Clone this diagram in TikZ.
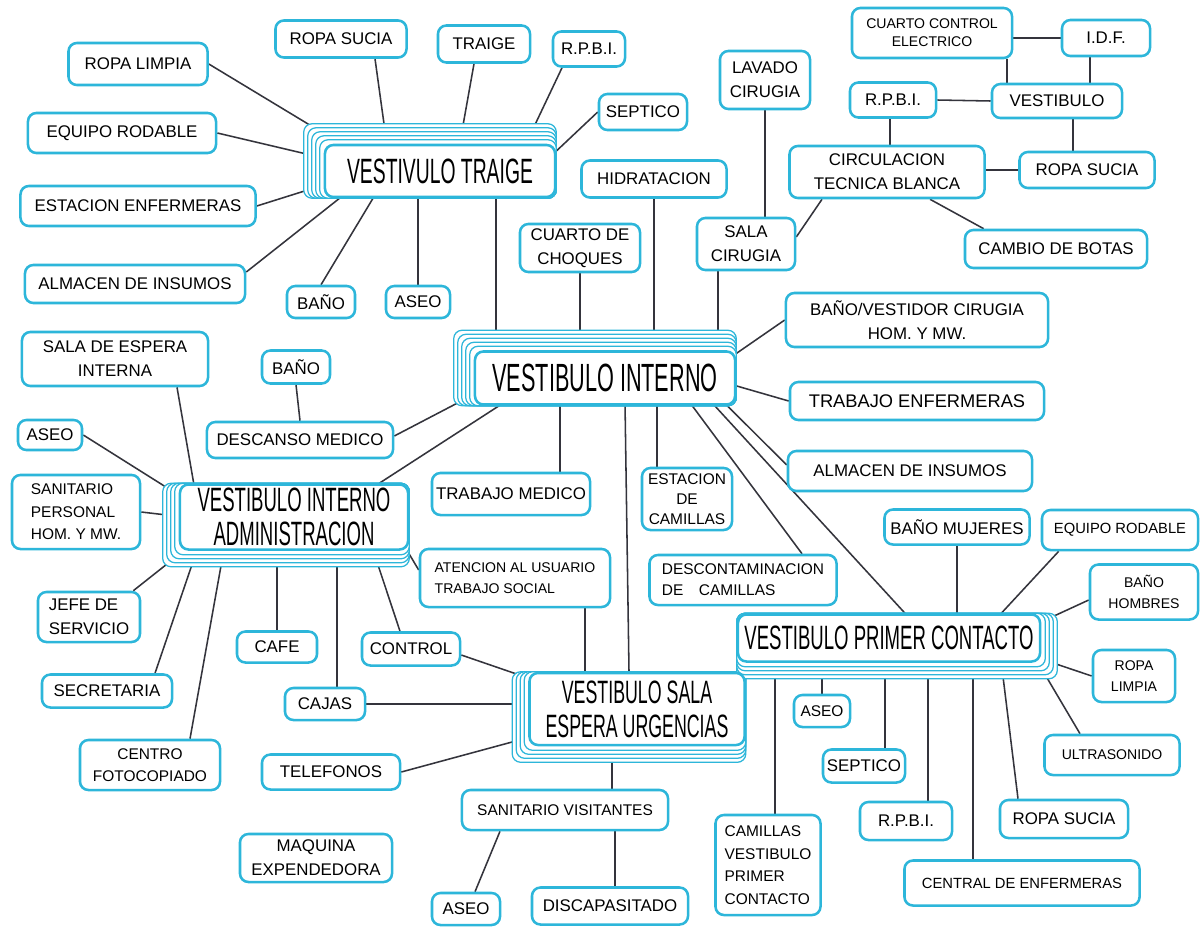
\documentclass[tikz,border=0pt]{standalone}
\usepackage{fontspec}
\setmainfont{Liberation Sans}
\newfontfamily\hubfont[FakeStretch=0.55]{Liberation Sans}
\usetikzlibrary{calc}
\definecolor{cyanline}{HTML}{2DB6DA}
\definecolor{inkline}{HTML}{34343C}
\pgfdeclarelayer{background}
\pgfdeclarelayer{stack}
\pgfsetlayers{background,stack,main}

\begin{document}
\begin{tikzpicture}[
  x=0.025cm, y=-0.025cm,
  room/.style={
    draw=cyanline,
    fill=white,
    line width=1.8pt,
    rounded corners=6pt,
    align=center,
    inner sep=2pt,
    font=\fontsize{12}{17}\selectfont
  },
  wh/.style 2 args={minimum width=#1*0.25mm, minimum height=#2*0.25mm},
  hub/.style={room, font=\hubfont\fontsize{#1}{24}\selectfont},
  sheet/.style={draw=cyanline, fill=white, line width=0.9pt, rounded corners=6pt},
  link/.style={draw=inkline, line width=1.1pt}
]
\useasboundingbox (0,0) rectangle (1200,928);

% vestivulo traige
\node[room, wh={139}{42}] (rl1) at (138,64) {ROPA LIMPIA};
\node[room, wh={131}{37}] (rs1) at (341,39) {ROPA SUCIA};
\node[room, wh={92}{37}] (trj) at (484,44) {TRAIGE};
\node[room, wh={72}{35}] (rpbi1) at (589,49) {R.P.B.I.};
\node[room, wh={88}{36}] (sep1) at (643,112) {SEPTICO};
\node[room, wh={188}{40}] (eqr1) at (122,133) {EQUIPO RODABLE};
\node[room, wh={235}{40}] (estenf) at (138,206) {ESTACION ENFERMERAS};
\node[room, wh={220}{38}] (alm1) at (135,284) {ALMACEN DE INSUMOS};
\node[room, wh={68}{32}] (bano1) at (321,302) {BAÑO};
\node[room, wh={64}{32}] (aseo1) at (418,302) {ASEO};
\node[hub=25, wh={230}{52}] (vtr) at (440,171) {VESTIVULO TRAIGE};

% circulacion blanca
\node[room, wh={90}{58}] (lav) at (765,80) {LAVADO\\CIRUGIA};
\node[room, wh={160}{50}, font=\fontsize{10}{13}\selectfont] (cce) at (932,33) {CUARTO CONTROL\\ELECTRICO};
\node[room, wh={88}{36}] (idf) at (1106,38) {I.D.F.};
\node[room, wh={86}{35}] (rpbi2) at (893,100) {R.P.B.I.};
\node[room, wh={130}{34}] (vest) at (1057,101) {VESTIBULO};
\node[room, wh={195}{52}] (ctb) at (887,172) {CIRCULACION\\TECNICA BLANCA};
\node[room, wh={135}{36}] (rs2) at (1087,170) {ROPA SUCIA};
\node[room, wh={98}{52}] (salac) at (746,244) {SALA\\CIRUGIA};
\node[room, wh={182}{38}] (botas) at (1056,249) {CAMBIO DE BOTAS};

% vestibulo interno
\node[room, wh={145}{37}] (hidr) at (654,179) {HIDRATACION};
\node[room, wh={120}{48}] (choq) at (580,248) {CUARTO DE\\CHOQUES};
\node[room, wh={262}{54}] (banovest) at (917,320) {BAÑO/VESTIDOR CIRUGIA\\HOM. Y MW.};
\node[room, wh={254}{38}, font=\fontsize{13}{17}\selectfont] (trenf) at (917,401) {TRABAJO ENFERMERAS};
\node[room, wh={244}{40}] (alm2) at (910,471) {ALMACEN DE INSUMOS};
\node[room, wh={158}{42}] (trmed) at (511,494) {TRABAJO MEDICO};
\node[room, wh={90}{62}, font=\fontsize{11}{14}\selectfont] (estcam) at (687,499) {ESTACION\\DE\\CAMILLAS};
\node[room, wh={187}{50}, align=left, font=\fontsize{11}{15}\selectfont] (descon) at (743,580) {DESCONTAMINACION\\DE\quad CAMILLAS};
\node[hub=28, wh={260}{53}] (vi) at (605,378) {VESTIBULO INTERNO};

% administracion
\node[room, wh={186}{54}] (sei) at (115,359) {SALA DE ESPERA\\INTERNA};
\node[room, wh={68}{33}] (bano2) at (296,367) {BAÑO};
\node[room, wh={186}{36}] (desc) at (300,440) {DESCANSO MEDICO};
\node[room, wh={64}{30}] (aseo2) at (50,435) {ASEO};
\node[room, wh={128}{74}, align=left, font=\fontsize{11}{16}\selectfont] (sanp) at (76,512) {SANITARIO\\PERSONAL\\HOM. Y MW.};
\node[room, wh={102}{50}, align=left] (jefe) at (89,617) {JEFE DE\\SERVICIO};
\node[room, wh={130}{33}] (secr) at (107,691) {SECRETARIA};
\node[room, wh={140}{50}, font=\fontsize{11}{16}\selectfont] (foto) at (150,765) {CENTRO\\FOTOCOPIADO};
\node[room, wh={80}{31}] (cafe) at (277,647) {CAFE};
\node[room, wh={98}{33}] (ctrl) at (411,649) {CONTROL};
\node[room, wh={80}{32}] (cajas) at (325,704) {CAJAS};
\node[room, wh={138}{35}] (tel) at (331,772) {TELEFONOS};
\node[room, wh={190}{58}, align=left, font=\fontsize{10}{15}\selectfont] (aten) at (515,578) {ATENCION AL USUARIO\\TRABAJO SOCIAL};
\node[hub=24, wh={228}{65}] (via) at (294,517) {VESTIBULO INTERNO\\ADMINISTRACION};

% sala espera urgencias
\node[room, wh={206}{40}, font=\fontsize{11}{15}\selectfont] (sanv) at (565,810) {SANITARIO VISITANTES};
\node[room, wh={152}{48}] (maq) at (316,858) {MAQUINA\\EXPENDEDORA};
\node[room, wh={68}{32}] (aseo3) at (466,909) {ASEO};
\node[room, wh={156}{37}] (disc) at (610,906) {DISCAPASITADO};
\node[hub=23, wh={215}{72}] (vse) at (637,709) {VESTIBULO SALA\\ESPERA URGENCIAS};

% primer contacto
\node[room, wh={145}{35}] (banom) at (957,527) {BAÑO MUJERES};
\node[room, wh={156}{40}, font=\fontsize{10.5}{14}\selectfont] (eqr2) at (1120,530) {EQUIPO RODABLE};
\node[room, wh={108}{55}, font=\fontsize{10}{15}\selectfont] (banoh) at (1144,592) {BAÑO\\HOMBRES};
\node[room, wh={82}{52}, font=\fontsize{10}{15}\selectfont] (rl2) at (1134,676) {ROPA\\LIMPIA};
\node[room, wh={135}{40}, font=\fontsize{10}{14}\selectfont] (ultra) at (1112,755) {ULTRASONIDO};
\node[room, wh={128}{38}] (rs3) at (1064,819) {ROPA SUCIA};
\node[room, wh={235}{45}, font=\fontsize{10.5}{14}\selectfont] (cenf) at (1022,883) {CENTRAL DE ENFERMERAS};
\node[room, wh={92}{38}] (rpbi3) at (906,821) {R.P.B.I.};
\node[room, wh={82}{33}] (sep2) at (864,766) {SEPTICO};
\node[room, wh={56}{32}, font=\fontsize{11}{14}\selectfont] (aseo4) at (822,711) {ASEO};
\node[room, wh={105}{100}, align=left, font=\fontsize{11}{16}\selectfont] (cam) at (768,865) {CAMILLAS\\VESTIBULO\\PRIMER\\CONTACTO};
\node[hub=24, wh={302}{47}] (vpc) at (889,638) {VESTIBULO PRIMER CONTACTO};

% stacked sheets behind the hubs, growing on two sides
\begin{pgfonlayer}{stack}
\foreach \h/\dx/\dy/\n in {vtr/-4/-4/5, vi/-4/-4/5, via/-4/4/4, vse/-4/4/4, vpc/4/4/4}
  \foreach \k in {\n,...,1}
    \draw[sheet]
      ($(\h.south west)+({min(0,\k*(\dx))},{max(0,\k*(\dy))})$) rectangle
      ($(\h.north east)+({max(0,\k*(\dx))},{min(0,\k*(\dy))})$);
\end{pgfonlayer}

\begin{pgfonlayer}{background}
\fill[white] (0,0) rectangle (1200,928);
% traige
\draw[link] (rl1.east) -- ($(vtr)+(-122,-41)$);
\draw[link] ($(rs1.south)+(34,0)$) -- ($(vtr)+(-55,-40)$);
\draw[link] ($(trj.south)+(-10,0)$) -- ($(vtr)+(22,-40)$);
\draw[link] ($(rpbi1.south)+(-27,0)$) -- ($(vtr)+(92,-40)$);
\draw[link] (sep1.west) -- ($(vtr)+(110,-14)$);
\draw[link] (eqr1.east) -- ($(vtr)+(-125,-15)$);
\draw[link] (estenf.east) -- ($(vtr)+(-110,12)$);
\draw[link] ($(alm1.east)+(0,-12)$) -- ($(vtr)+(-90,19)$);
\draw[link] (bano1.north) -- ($(vtr)+(-62,19)$);
\draw[link] (aseo1.north) -- ($(vtr)+(-22,19)$);
\draw[link] ($(vtr)+(56,19)$) -- ($(vi)+(-109,-40)$);
% circulacion blanca
\draw[link] ($(cce.east)+(0,5)$) -- (idf.west);
\draw[link] ($(cce.south)+(75,0)$) -- ($(vest.north)+(-50,0)$);
\draw[link] ($(idf.south)+(-16,0)$) -- ($(vest.north)+(33,0)$);
\draw[link] (rpbi2.east) -- (vest.west);
\draw[link] ($(rpbi2.south)+(-3,0)$) -- ($(ctb.north)+(3,0)$);
\draw[link] ($(vest.south)+(16,0)$) -- ($(rs2.north)+(-14,0)$);
\draw[link] (rs2.west) -- ($(ctb.east)+(0,-2)$);
\draw[link] (lav.south) -- ($(salac.north)+(19,0)$);
\draw[link] ($(ctb.south)+(-65,0)$) -- ($(salac.east)+(0,-7)$);
\draw[link] ($(ctb.south)+(43,0)$) -- ($(botas.north west)+(20,0)$);
% vestibulo interno
\draw[link] (hidr.south) -- ($(vi.north)+(49,3)$);
\draw[link] (choq.south) -- ($(vi.north)+(-25,3)$);
\draw[link] ($(salac.south)+(-28,0)$) -- ($(vi.north)+(113,3)$);
\draw[link] (banovest.west) -- ($(vi.north east)+(-4,6)$);
\draw[link] (trenf.west) -- ($(vi.east)+(-3,7)$);
\draw[link] ($(alm2.west)+(0,-6)$) -- ($(vi.south east)+(-12,-3)$);
\draw[link] ($(desc.east)+(0,-4)$) -- ($(vi.south west)+(-10,-6)$);
\draw[link] ($(via.north east)+(-30,0)$) -- ($(vi.south west)+(30,-3)$);
\draw[link] ($(trmed.north)+(49,0)$) -- ($(vi.south)+(-45,-3)$);
\draw[link] ($(estcam.north)+(-30,0)$) -- ($(vi.south)+(52,-3)$);
\draw[link] ($(descon.north)+(59,0)$) -- ($(vi.south)+(85,-3)$);
\draw[link] ($(vpc.north)+(16,0)$) -- ($(vi.south)+(107,-3)$);
\draw[link] ($(vse.north)+(-8,0)$) -- ($(vi.south)+(20,-3)$);
% administracion
\draw[link] ($(sei.south)+(62,0)$) -- ($(via.north west)+(15,0)$);
\draw[link] (bano2.south) -- (desc.north);
\draw[link] (aseo2.east) -- ($(via.north west)+(5,15)$);
\draw[link] (sanp.east) -- ($(via.west)+(5,0)$);
\draw[link] ($(jefe.north east)+(-8,0)$) -- ($(via.south west)+(5,0)$);
\draw[link] ($(secr.north)+(48,0)$) -- ($(via.south west)+(18,0)$);
\draw[link] ($(foto.north)+(40,0)$) -- ($(via.south west)+(45,0)$);
\draw[link] (cafe.north) -- ($(via.south)+(-17,0)$);
\draw[link] ($(cajas.north)+(12,0)$) -- ($(via.south)+(43,0)$);
\draw[link] ($(ctrl.north)+(-11,0)$) -- ($(via.south east)+(-36,0)$);
\draw[link] ($(aten.west)+(0,-8)$) -- ($(via.south east)+(-5,-5)$);
\draw[link] ($(aten.south)+(70,0)$) -- ($(vse.north)+(-52,0)$);
% sala espera urgencias
\draw[link] ($(ctrl.east)+(0,6)$) -- ($(vse.north west)+(5,8)$);
\draw[link] (cajas.east) -- ($(vse.west)+(5,-5)$);
\draw[link] (tel.east) -- ($(vse.south west)+(5,-10)$);
\draw[link] ($(sanv.north)+(47,0)$) -- ($(vse.south)+(-25,0)$);
\draw[link] ($(sanv.south)+(-65,0)$) -- ($(aseo3.north)+(9,0)$);
\draw[link] ($(sanv.south)+(50,0)$) -- ($(disc.north)+(5,0)$);
% primer contacto
\draw[link] (banom.south) -- ($(vpc.north)+(68,0)$);
\draw[link] ($(eqr2.south west)+(18,0)$) -- ($(vpc.north east)+(-40,0)$);
\draw[link] ($(banoh.west)+(0,8)$) -- ($(vpc.north east)+(-3,10)$);
\draw[link] (rl2.west) -- ($(vpc.east)+(-3,20)$);
\draw[link] ($(ultra.north)+(-32,0)$) -- ($(vpc.south east)+(-5,-3)$);
\draw[link] ($(rs3.north)+(-46,0)$) -- ($(vpc.south east)+(-40,0)$);
\draw[link] ($(cenf.north)+(-49,0)$) -- ($(vpc.south)+(84,0)$);
\draw[link] ($(rpbi3.north)+(22,0)$) -- ($(vpc.south)+(39,0)$);
\draw[link] ($(sep2.north)+(21,0)$) -- ($(vpc.south)+(-4,0)$);
\draw[link] (aseo4.north) -- ($(vpc.south)+(-67,0)$);
\draw[link] ($(cam.north)+(7,0)$) -- ($(vpc.south)+(-114,0)$);
\end{pgfonlayer}
\end{tikzpicture}
\end{document}
